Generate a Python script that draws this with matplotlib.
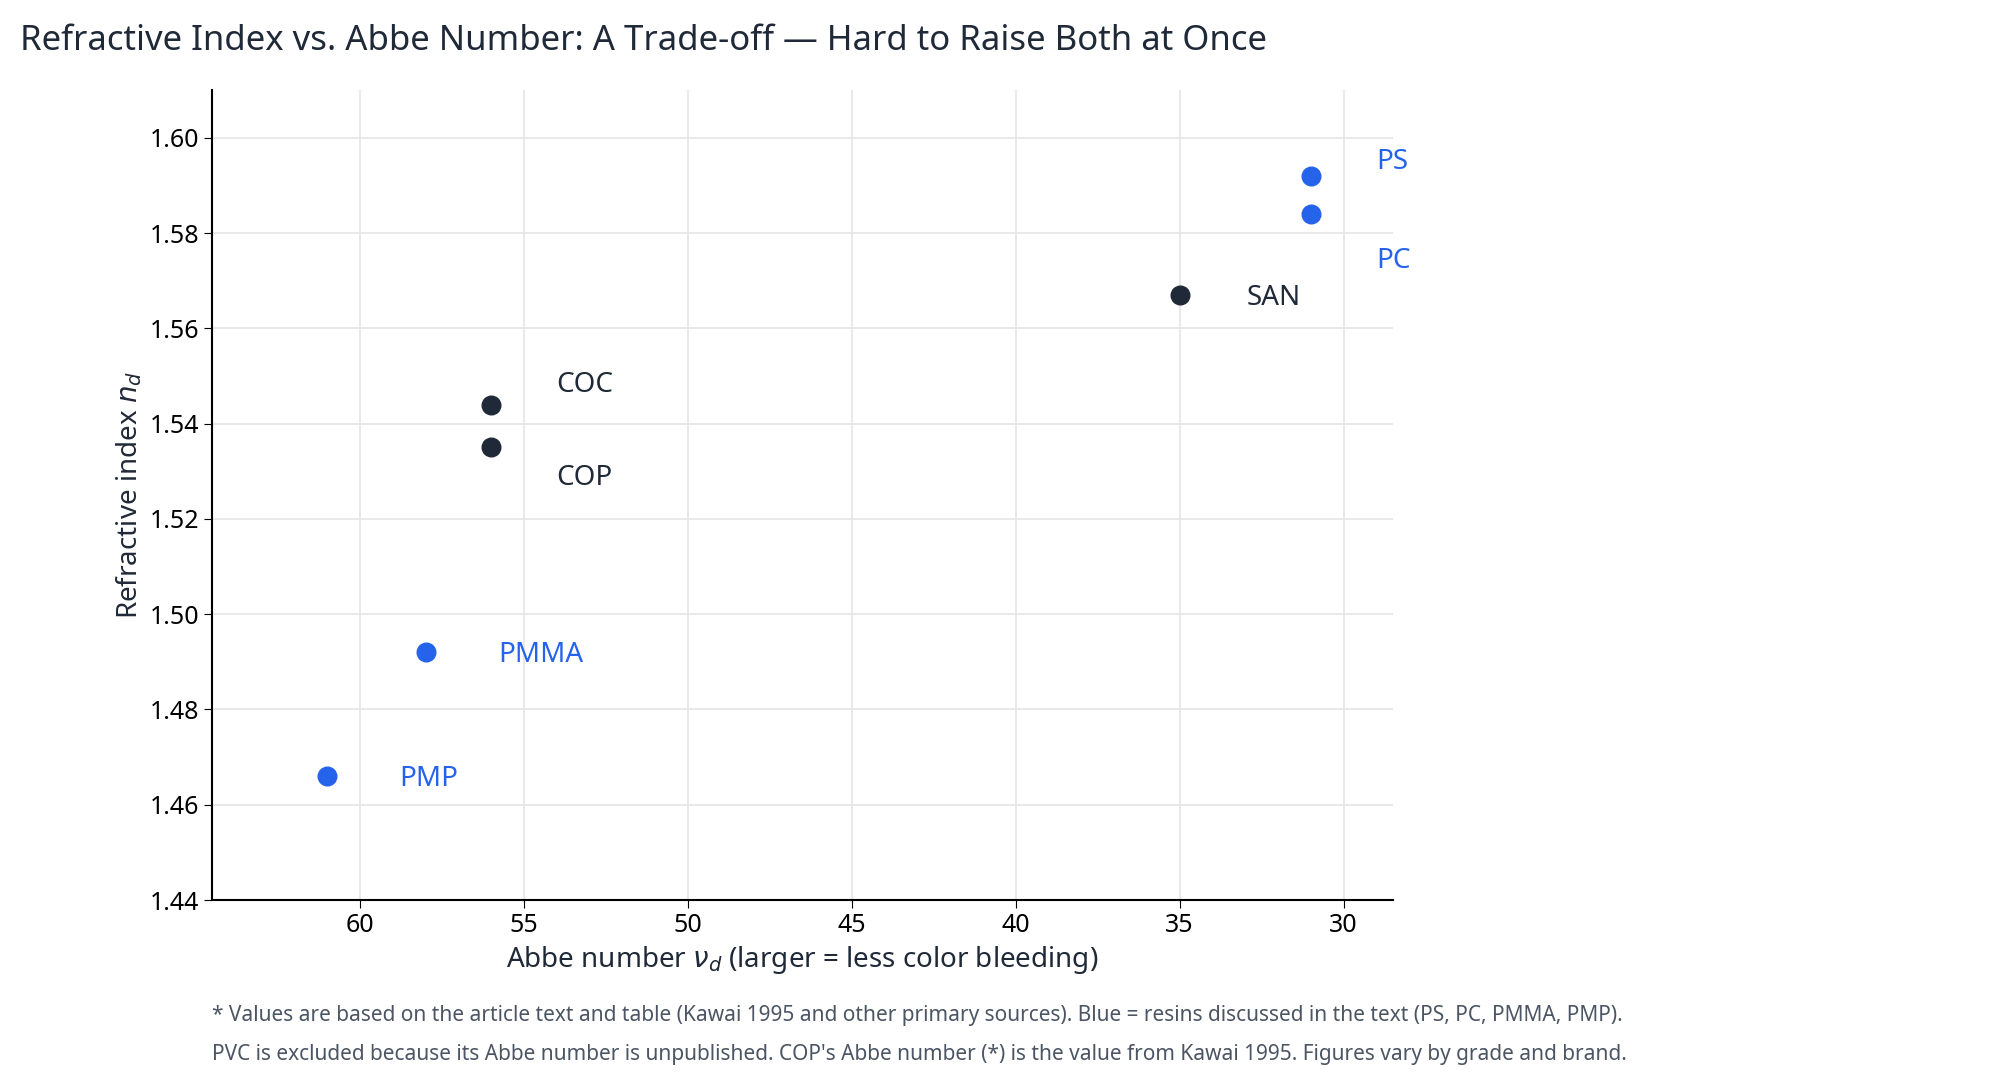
import matplotlib
matplotlib.use("Agg")
import matplotlib.pyplot as plt

plt.rcParams['font.family'] = ['Noto Sans', 'DejaVu Sans']

names = ["PS", "PC", "SAN", "COC", "COP", "PMMA", "PMP"]
abbe = [31, 31, 35, 56, 56, 58, 61]
nd = [1.592, 1.584, 1.567, 1.544, 1.535, 1.492, 1.466]
in_text = [True, True, False, False, False, True, True]
# label offsets in points
offsets = [(47, 10), (47, -34), (48, -2), (47, 14), (47, -22), (52, -2), (52, -2)]

blue = "#2563eb"
dark = "#1f2937"

fig = plt.figure(figsize=(20.04, 10.87), dpi=100)
ax = fig.add_axes([0.106, 0.172, 0.589, 0.745])

for n, x, y, t, off in zip(names, abbe, nd, in_text, offsets):
    c = blue if t else dark
    ax.scatter(x, y, s=180, color=c, zorder=3)
    ax.annotate(n, (x, y), xytext=off, textcoords="offset points",
                fontsize=20, fontweight="bold", color=c, ha="left", va="center")

ax.set_xlim(64.5, 28.5)
ax.set_ylim(1.44, 1.61)
ax.set_xticks([60, 55, 50, 45, 40, 35, 30])
ax.set_yticks([1.44, 1.46, 1.48, 1.50, 1.52, 1.54, 1.56, 1.58, 1.60])
ax.set_yticklabels([f"{v:.2f}" for v in ax.get_yticks()])
ax.grid(color="#e5e5e5", linewidth=1.2)
ax.set_axisbelow(True)
for s in ["top", "right"]:
    ax.spines[s].set_visible(False)
for s in ["left", "bottom"]:
    ax.spines[s].set_linewidth(1.5)
ax.tick_params(labelsize=18, length=6)
ax.set_xlabel(r"Abbe number $\nu_d$ (larger = less color bleeding)", fontsize=20, color=dark)
ax.set_ylabel(r"Refractive index $n_d$", fontsize=20, color=dark)

fig.text(0.01, 0.962, "Refractive Index vs. Abbe Number: A Trade-off — Hard to Raise Both at Once",
         fontsize=25, fontweight="bold", color=dark, va="center")
fig.text(0.106, 0.066, "* Values are based on the article text and table (Kawai 1995 and other primary sources). "
         "Blue = resins discussed in the text (PS, PC, PMMA, PMP).", fontsize=15, color="#4b5563", va="center")
fig.text(0.106, 0.030, "PVC is excluded because its Abbe number is unpublished. COP's Abbe number (*) is the value "
         "from Kawai 1995. Figures vary by grade and brand.", fontsize=15, color="#4b5563", va="center")

fig.savefig("out.png", dpi=100)
